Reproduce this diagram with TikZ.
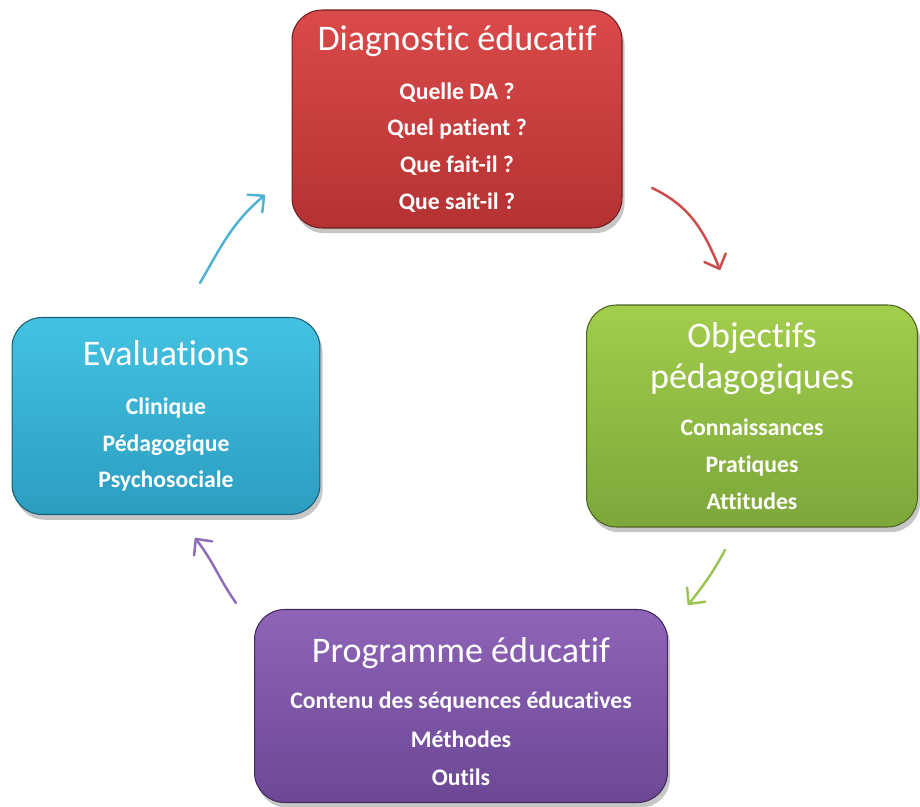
\documentclass[tikz,border=0pt]{standalone}
\usepackage{fontspec}
\setmainfont{Carlito}[RawFeature={-liga;-clig;-calt;-dlig}]
\usetikzlibrary{arrows.meta,shadows}
\definecolor{rougeH}{HTML}{DA4A4A}
\definecolor{rougeB}{HTML}{B53232}
\definecolor{vertH}{HTML}{A2CD4C}
\definecolor{vertB}{HTML}{7DA73A}
\definecolor{bleuH}{HTML}{44C2E2}
\definecolor{bleuB}{HTML}{2B9DC0}
\definecolor{violetH}{HTML}{8E64B8}
\definecolor{violetB}{HTML}{6C4894}
\definecolor{flRouge}{HTML}{CC4B4B}
\definecolor{flVert}{HTML}{9BC453}
\definecolor{flViolet}{HTML}{8B6DB8}
\definecolor{flBleu}{HTML}{4CB4D2}
\newcommand{\titre}[1]{{\fontsize{20.5}{24}\selectfont\mdseries #1}}

\begin{document}
\begin{tikzpicture}[x=0.02cm, y=0.02cm,
        etape/.style={rounded corners=0.6cm, line width=0.6pt, inner sep=0pt,
        align=center, text=white, font=\fontsize{13.5}{21}\selectfont\bfseries,
        drop shadow={shadow xshift=1.5pt, shadow yshift=-3pt, opacity=0.45}},
        fleche/.style={line width=1.4pt, line cap=round,
        -{Straight Barb[length=2.4mm,width=4.6mm,round]}}]
        \useasboundingbox (0,0) rectangle (920,-807);
        \node[etape, top color=rougeH, bottom color=rougeB, draw=rougeB!60!black,
        minimum width=6.6cm, minimum height=4.36cm] (diag) at (457,-119)
        {\titre{Diagnostic éducatif}\\[6.8pt] Quelle DA ?\\ Quel patient ?\\ Que fait-il ?\\ Que sait-il ?};
        \node[etape, top color=vertH, bottom color=vertB, draw=vertB!60!black,
        minimum width=6.62cm, minimum height=4.44cm] (obj) at (752,-416)
        {\titre{Objectifs}\\[2.2pt] \titre{pédagogiques}\\[5.6pt] Connaissances\\ Pratiques\\ Attitudes};
        \node[etape, top color=violetH, bottom color=violetB, draw=violetB!60!black,
        minimum width=8.26cm, minimum height=3.86cm] (prog) at (461,-706)
        {\titre{\rule{0pt}{21pt}Programme éducatif}\\[5pt] Contenu des séquences éducatives\\[1pt] Méthodes\\[1pt] Outils};
        \node[etape, top color=bleuH, bottom color=bleuB, draw=bleuB!60!black,
        minimum width=6.16cm, minimum height=3.94cm] (eval) at (166,-416)
        {\titre{Evaluations}\\[6.8pt] Clinique\\ Pédagogique\\ Psychosociale};
        \coordinate (d1) at (652,-188);
        \coordinate (o1) at (720,-270);
        \coordinate (o2) at (725,-550);
        \coordinate (p1) at (688,-605);
        \coordinate (p2) at (236,-603);
        \coordinate (e1) at (195,-538);
        \coordinate (e2) at (200,-283);
        \coordinate (d2) at (265,-195);
        \draw[fleche, flRouge] (d1) to[out=-25, in=112] (o1);
        \draw[fleche, flVert] (o2) to[out=-118, in=52] (p1);
        \draw[fleche, flViolet] (p2) to[out=125, in=-52] (e1);
        \draw[fleche, flBleu] (e2) to[out=60, in=-140] (d2);
    \end{tikzpicture}
\end{document}
